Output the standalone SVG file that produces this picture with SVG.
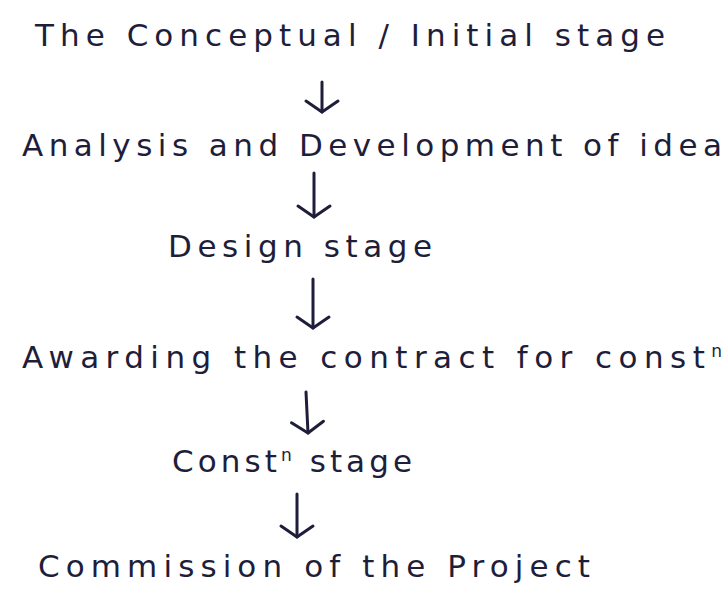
<svg xmlns="http://www.w3.org/2000/svg" width="725" height="596" viewBox="0 0 725 596">
  <style>
    .t { font-family: "DejaVu Sans", "Liberation Sans", sans-serif; font-size: 31px; fill: #1e1e3a; }
    .c { stroke: #1e1e3a; stroke-width: 3; fill: none; stroke-linecap: round; stroke-linejoin: round; }
  </style>
  <defs>
    <marker id="ah" markerUnits="userSpaceOnUse" markerWidth="40" markerHeight="40" refX="0" refY="0" viewBox="-20 -20 40 40" orient="auto" overflow="visible">
      <path d="M-11,-16 L0,0 L-11,16" fill="none" stroke="#1e1e3a" stroke-width="3" stroke-linecap="round" stroke-linejoin="round"/>
    </marker>
  </defs>
  <rect width="725" height="596" fill="#ffffff"/>

  <g id="n1"><text class="t" x="35" y="46" textLength="630" lengthAdjust="spacing">The Conceptual / Initial stage</text></g>
  <g id="n2"><text class="t" x="22" y="156" textLength="700" lengthAdjust="spacing">Analysis and Development of idea</text></g>
  <g id="n3"><text class="t" x="168" y="257" textLength="264" lengthAdjust="spacing">Design stage</text></g>
  <g id="n4"><text class="t" x="22" y="368" textLength="700" lengthAdjust="spacing">Awarding the contract for const<tspan dy="-11" font-size="17">n</tspan></text></g>
  <g id="n5"><text class="t" x="172" y="472" textLength="240" lengthAdjust="spacing">Const<tspan dy="-11" font-size="17">n</tspan><tspan dy="11"> stage</tspan></text></g>
  <g id="n6"><text class="t" x="38" y="577" textLength="552" lengthAdjust="spacing">Commission of the Project</text></g>

  <g id="connectors">
    <path class="c" d="M322,82 L322,112" marker-end="url(#ah)"/>
    <path class="c" d="M314,173 L314,217" marker-end="url(#ah)"/>
    <path class="c" d="M313,279 L313,328" marker-end="url(#ah)"/>
    <path class="c" d="M306,392 L308,433" marker-end="url(#ah)"/>
    <path class="c" d="M297,494 L297,537" marker-end="url(#ah)"/>
  </g>
</svg>
